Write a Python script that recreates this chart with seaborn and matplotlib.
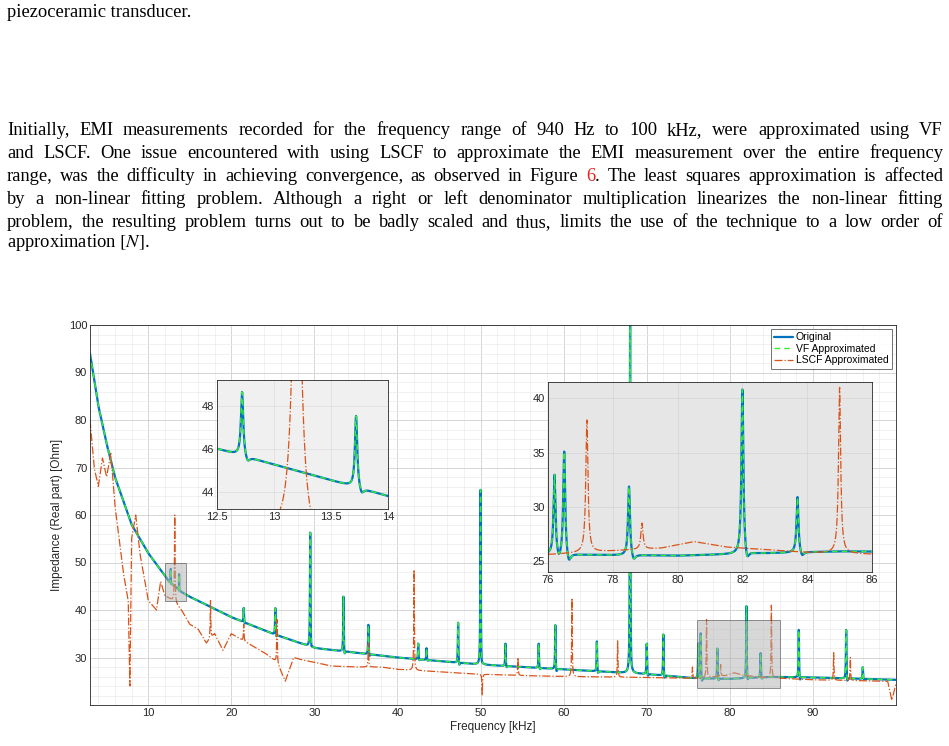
import numpy as np
import matplotlib
matplotlib.use('Agg')
import matplotlib.pyplot as plt
import seaborn as sns
import pandas as pd
from matplotlib.patches import Rectangle

sns.set_theme(style='white')
plt.rcParams['font.family'] = ['Liberation Sans', 'DejaVu Sans']
plt.rcParams['mathtext.fontset'] = 'stix'

# ---------------- data ----------------
base_f = [3, 4, 5, 6, 8, 10, 12, 12.5, 14, 15, 20, 25, 30, 35, 40, 50, 60, 70, 76, 80, 85, 90, 100]
base_v = [94, 83, 75, 68, 58, 52, 47.3, 46.0, 43.8, 42.8, 38.5, 35, 32, 31, 30, 28.5, 27.5, 26.5, 25.6, 25.5, 25.9, 25.8, 25.3]
peak_f = [12.72, 13.72, 21.5, 25.3, 29.5, 33.5, 36.5, 42.5, 43.5, 47.3, 50.0, 53.0, 57.0, 59.0,
          64.0, 68.0, 70.0, 72.0, 76.2, 76.5, 78.5, 82.0, 83.7, 88.3, 94.0, 96.0]
peak_top = [48.7, 47.6, 40.5, 40.5, 56.5, 43, 37, 33, 32, 37.5, 65.5, 33, 33, 37,
            33.5, 105, 33, 35, 33, 35.3, 32, 41, 31, 36, 36, 28]

lscf_f = [3, 3.5, 4, 4.5, 5, 5.5, 6, 7, 7.6, 7.8, 8.0, 8.5, 9, 10, 11, 11.5, 12, 13, 14, 15, 16, 17, 18, 19,
          20, 22, 24, 25.5, 26.5, 27.5, 28.5, 30, 32, 35, 38, 40, 45, 50, 55, 60, 70, 76,
          79.5, 80.5, 81.5, 84, 90, 99, 99.5, 100]
lscf_v = [80, 70, 66, 72, 68, 73, 62, 48, 42, 24, 55, 60, 52, 42, 40, 46, 43, 42, 40, 37, 36, 33, 35, 31.5,
          35, 33, 31, 29, 25, 30, 29.5, 29, 28.2, 28, 28, 27.5, 27, 26.5, 26.2, 26, 25.8, 25.6,
          26.2, 26.8, 26.3, 25.8, 25.3, 25, 21, 24.5]
lscf_sp_f = [13.2, 17.5, 21.5, 25.5, 36.5, 42.0, 50.2, 54.5, 61.0, 66.5, 75.5, 77.2, 78.9, 85.0, 92.5, 94.5]
lscf_sp_v = [60, 42, 37, 38, 33, 48.5, 22, 30, 42.5, 33.5, 28, 38, 28.5, 41, 31, 30]

f = np.linspace(3, 100, 60000)
base = np.interp(f, base_f, base_v)
orig = base.copy()
for f0, top in zip(peak_f, peak_top):
    w = 0.012 if f0 < 20 else 0.035
    h = top - np.interp(f0, base_f, base_v)
    orig += h / (1 + ((f - f0) / w) ** 2)
    orig -= min(0.1 * h, 1.0) / (1 + ((f - f0 - 4 * w) / (2 * w)) ** 2)
lscf = np.interp(f, lscf_f, lscf_v)
for f0, top in zip(lscf_sp_f, lscf_sp_v):
    w = 0.04
    h = top - np.interp(f0, lscf_f, lscf_v)
    lscf += h / (1 + ((f - f0) / w) ** 2)

df = pd.DataFrame({'f': f, 'orig': orig, 'vf': orig, 'lscf': lscf})

C_O, C_V, C_L = '#0072BD', '#33EE33', '#D95319'

fig = plt.figure(figsize=(9.49, 7.46), dpi=100)
W, H = 949, 746


def ax_px(x0, y0, x1, y1):
    return fig.add_axes([x0 / W, 1 - y1 / H, (x1 - x0) / W, (y1 - y0) / H])


def draw(ax, lw=1.6):
    sns.lineplot(data=df, x='f', y='orig', ax=ax, color=C_O, lw=lw, label='Original', estimator=None)
    sns.lineplot(data=df, x='f', y='vf', ax=ax, color=C_V, lw=1.0, ls=(0, (4, 3)), label='VF Approximated', estimator=None)
    sns.lineplot(data=df, x='f', y='lscf', ax=ax, color=C_L, lw=0.9, ls='-.', label='LSCF Approximated', estimator=None)


def style(ax):
    ax.tick_params(labelsize=8, length=3, direction='in', colors='#262626', pad=2)
    for s in ax.spines.values():
        s.set_color('#262626'); s.set_linewidth(0.6)
    ax.set_xlabel(''); ax.set_ylabel('')

# main axes
ax = ax_px(90, 325, 896, 705)
draw(ax)
ax.set_xlim(3, 100); ax.set_ylim(20, 100)
ax.set_xticks(range(10, 100, 10)); ax.set_yticks(range(30, 101, 10))
ax.set_xticks(np.arange(4, 100, 2), minor=True); ax.set_yticks(np.arange(20, 100, 2), minor=True)
ax.grid(True, which='major', color='#d0d0d0', lw=0.6)
ax.grid(True, which='minor', color='#ececec', lw=0.5)
style(ax)
ax.set_xlabel('Frequency [kHz]', fontsize=8.5, labelpad=2, color='#262626')
ax.set_ylabel('Impedance (Real part) [Ohm]', fontsize=8.5, labelpad=4, color='#262626')
ax.add_patch(Rectangle((12, 42), 2.5, 8, fc='#b0b0b0', ec='#333333', lw=0.7, alpha=0.5, zorder=5))
ax.add_patch(Rectangle((76, 23.5), 10, 14.5, fc='#b0b0b0', ec='#333333', lw=0.7, alpha=0.5, zorder=5))
leg = ax.legend(loc='upper right', fontsize=7.5, frameon=True, fancybox=False, borderpad=0.3,
                labelspacing=0.15, handlelength=1.8, handletextpad=0.3, borderaxespad=0.4)
leg.get_frame().set_edgecolor('#333333'); leg.get_frame().set_linewidth(0.6)
for t in leg.get_texts():
    t.set_color('black')

# inset 1
a1 = ax_px(217, 380, 388, 509)
draw(a1)
a1.set_xlim(12.5, 14); a1.set_ylim(43.2, 49.2)
a1.set_xticks([12.5, 13, 13.5, 14]); a1.set_xticklabels(['12.5', '13', '13.5', '14'])
a1.set_yticks([44, 46, 48])
a1.set_facecolor('#f0f0f0')
a1.grid(True, color='#dddddd', lw=0.5)
style(a1)
a1.get_legend().remove()

# inset 2
a2 = ax_px(548, 382, 872, 572)
draw(a2)
a2.set_xlim(76, 86); a2.set_ylim(24, 41.5)
a2.set_xticks(range(76, 87, 2)); a2.set_yticks([25, 30, 35, 40])
a2.set_facecolor('#e6e6e6')
a2.grid(True, color='#d4d4d4', lw=0.5)
style(a2)
a2.get_legend().remove()

# ---------------- text ----------------
FS = 13.3
TF = ['Liberation Serif', 'DejaVu Serif']
BO = 5  # baseline offset from line centre, px
fig.text(7 / W, 1 - (12 + BO) / H, 'piezoceramic transducer.', fontsize=FS, family=TF, va='baseline', color='black')

lines = [
    "Initially, EMI measurements recorded for the frequency range of 940 Hz to 100 kHz, were approximated using VF",
    "and LSCF. One issue encountered with using LSCF to approximate the EMI measurement over the entire frequency",
    "range, was the difficulty in achieving convergence, as observed in Figure 6. The least squares approximation is affected",
    "by a non-linear fitting problem. Although a right or left denominator multiplication linearizes the non-linear fitting",
    "problem, the resulting problem turns out to be badly scaled and thus, limits the use of the technique to a low order of",
]
ys = [130, 153, 176, 199, 222]
fig.canvas.draw()
r = fig.canvas.get_renderer()
X0, X1 = 7, 943
for line, y in zip(lines, ys):
    words = line.split(' ')
    objs = []
    for wd in words:
        parts = [(wd, 'black')]
        if wd == '6.':
            parts = [('6', '#E8211A'), ('.', 'black')]
        group = [fig.text(0, 1 - (y + BO) / H, p, fontsize=FS, family=TF, va='baseline', color=c) for p, c in parts]
        objs.append(group)
    widths = [[t.get_window_extent(r).width for t in g] for g in objs]
    tot = sum(sum(w) for w in widths)
    gap = (X1 - X0 - tot) / (len(objs) - 1)
    x = X0
    for g, ws in zip(objs, widths):
        for t, w in zip(g, ws):
            t.set_x(x / W); x += w
        x += gap
fig.text(7 / W, 1 - (242 + BO) / H, 'approximation $[N]$.', fontsize=FS, family=TF, va='baseline', color='black')

fig.savefig('out.png', dpi=100)
